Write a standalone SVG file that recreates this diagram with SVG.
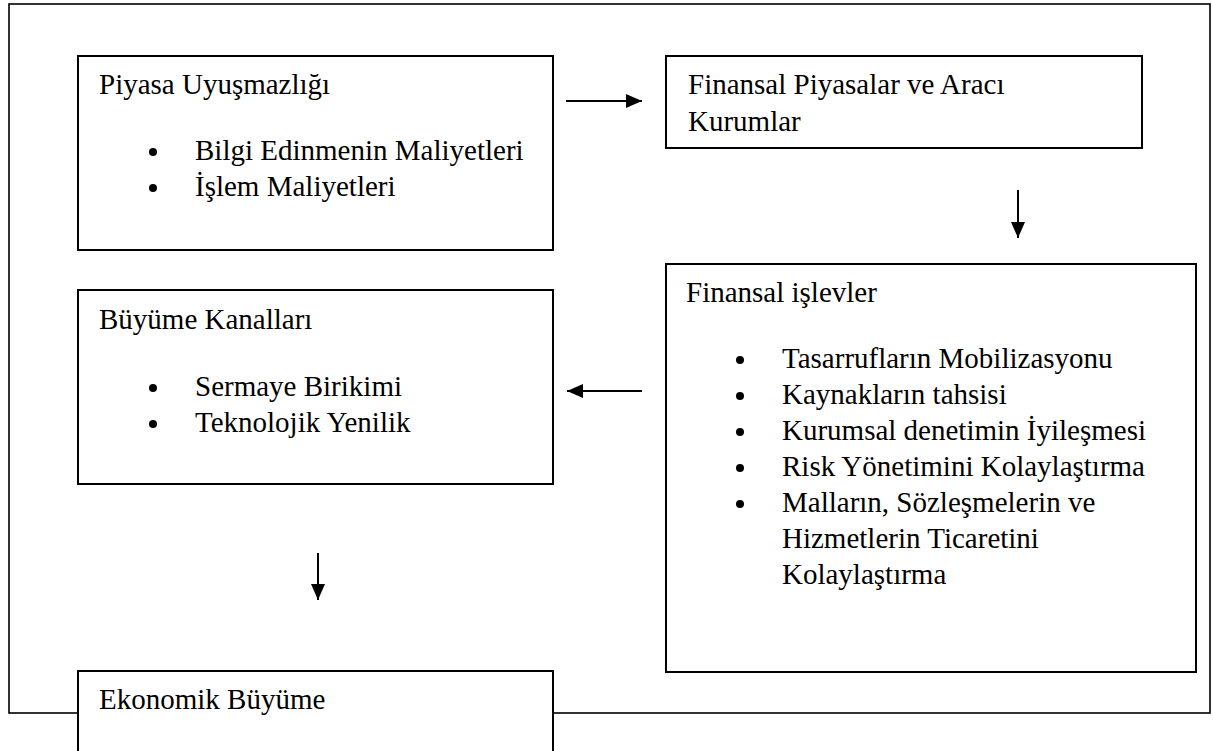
<svg xmlns="http://www.w3.org/2000/svg" width="1213" height="751" viewBox="0 0 1213 751">
<defs>
<style>
.box{fill:#fff;stroke:#000;stroke-width:2}
.frame{fill:none;stroke:#000;stroke-width:1.6}
.t{font-family:"Liberation Serif","Times New Roman","DejaVu Serif",serif;font-size:29px;fill:#000}
.ln{stroke:#000;stroke-width:2;fill:none}
.dot{fill:#000}
</style>
<marker id="ah" viewBox="0 0 16 14" refX="16" refY="7" markerWidth="16" markerHeight="14" markerUnits="userSpaceOnUse" orient="auto">
<path d="M0,0 L16,7 L0,14 Z" fill="#000"/>
</marker>
</defs>
<rect width="1213" height="751" fill="#fff"/>
<rect class="frame" x="9" y="4" width="1201" height="709"/>
<g id="n1">
<rect class="box" x="78" y="56" width="475" height="194"/>
<text class="t" x="99" y="94">Piyasa Uyuşmazlığı</text>
<circle class="dot" cx="153" cy="152" r="4"/>
<text class="t" x="195" y="160">Bilgi Edinmenin Maliyetleri</text>
<circle class="dot" cx="153" cy="188" r="4"/>
<text class="t" x="195" y="196">İşlem Maliyetleri</text>
</g>
<g id="n2">
<rect class="box" x="666" y="56" width="476" height="92"/>
<text class="t" x="688" y="94">Finansal Piyasalar ve Aracı</text>
<text class="t" x="688" y="131">Kurumlar</text>
</g>
<g id="n3">
<rect class="box" x="666" y="264" width="530" height="408"/>
<text class="t" x="686" y="302">Finansal işlevler</text>
<circle class="dot" cx="740" cy="360" r="4"/>
<text class="t" x="782" y="368">Tasarrufların Mobilizasyonu</text>
<circle class="dot" cx="740" cy="396" r="4"/>
<text class="t" x="782" y="404">Kaynakların tahsisi</text>
<circle class="dot" cx="740" cy="432" r="4"/>
<text class="t" x="782" y="440">Kurumsal denetimin İyileşmesi</text>
<circle class="dot" cx="740" cy="468" r="4"/>
<text class="t" x="782" y="476">Risk Yönetimini Kolaylaştırma</text>
<circle class="dot" cx="740" cy="504" r="4"/>
<text class="t" x="782" y="512">Malların, Sözleşmelerin ve</text>
<text class="t" x="782" y="548">Hizmetlerin Ticaretini</text>
<text class="t" x="782" y="584">Kolaylaştırma</text>
</g>
<g id="n4">
<rect class="box" x="78" y="290" width="475" height="194"/>
<text class="t" x="99" y="329">Büyüme Kanalları</text>
<circle class="dot" cx="153" cy="388" r="4"/>
<text class="t" x="195" y="396">Sermaye Birikimi</text>
<circle class="dot" cx="153" cy="424" r="4"/>
<text class="t" x="195" y="432">Teknolojik Yenilik</text>
</g>
<g id="n5">
<rect class="box" x="78" y="671" width="475" height="100"/>
<text class="t" x="99" y="709">Ekonomik Büyüme</text>
</g>
<g id="connectors">
<line class="ln" x1="566" y1="101" x2="642" y2="101" marker-end="url(#ah)"/>
<line class="ln" x1="1018" y1="190" x2="1018" y2="238" marker-end="url(#ah)"/>
<line class="ln" x1="642" y1="391" x2="567" y2="391" marker-end="url(#ah)"/>
<line class="ln" x1="318" y1="553" x2="318" y2="600" marker-end="url(#ah)"/>
</g>
</svg>
